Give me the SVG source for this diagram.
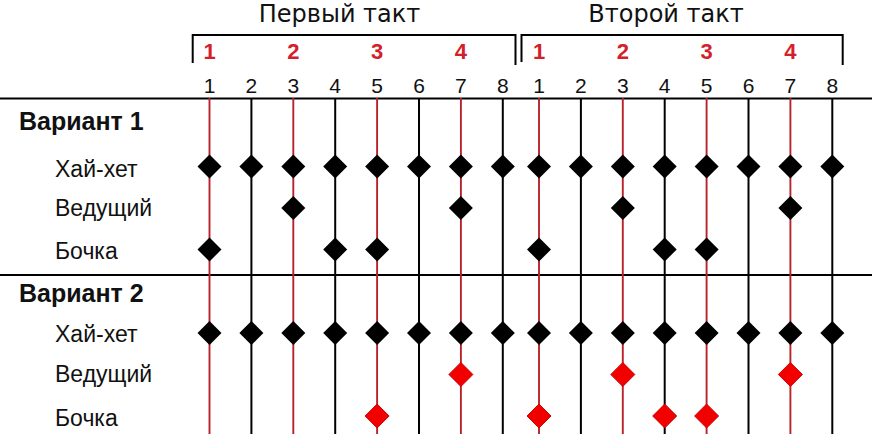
<svg xmlns="http://www.w3.org/2000/svg" xmlns:xlink="http://www.w3.org/1999/xlink" width="872" height="434" viewBox="0 0 872 434">
<style>
.title{font-family:"DejaVu Sans",sans-serif;font-size:24px;fill:#111;text-anchor:middle}
.beat{font-family:"Liberation Sans",Arial,sans-serif;font-size:22px;font-weight:bold;fill:#d3202a;text-anchor:middle}
.num{font-family:"Liberation Sans",Arial,sans-serif;font-size:21px;fill:#111;text-anchor:middle}
.var{font-family:"Liberation Sans",Arial,sans-serif;font-size:25px;font-weight:bold;fill:#111}
.lbl{font-family:"Liberation Sans",Arial,sans-serif;font-size:23px;fill:#111}
.bk{stroke:#000;stroke-width:2;fill:none}
.vl{stroke:#000;stroke-width:2}
.vr{stroke:#b8232a;stroke-width:1.9}
.db{fill:#000}
.dr{fill:#f20000;stroke:#d00000;stroke-width:1}
</style>
<defs>
<path id="d" d="M0,-12 L12,0 L0,12 L-12,0Z"/>
</defs>
<rect width="872" height="434" fill="#fff"/>
<g id="header">
<text class="title" x="339.5" y="22">Первый такт</text>
<text class="title" x="666" y="22">Второй такт</text>
<path class="bk" d="M192.7,63 V35 H515.5 V65"/>
<path class="bk" d="M521.5,62 V35 H842.7 V65"/>
<text class="beat" x="209.5" y="59">1</text>
<text class="beat" x="293.3" y="59">2</text>
<text class="beat" x="377.1" y="59">3</text>
<text class="beat" x="460.9" y="59">4</text>
<text class="beat" x="539" y="59">1</text>
<text class="beat" x="622.8" y="59">2</text>
<text class="beat" x="706.6" y="59">3</text>
<text class="beat" x="790.4" y="59">4</text>
<text class="num" x="209.5" y="92.5">1</text>
<text class="num" x="251.4" y="92.5">2</text>
<text class="num" x="293.3" y="92.5">3</text>
<text class="num" x="335.2" y="92.5">4</text>
<text class="num" x="377.1" y="92.5">5</text>
<text class="num" x="419" y="92.5">6</text>
<text class="num" x="460.9" y="92.5">7</text>
<text class="num" x="502.8" y="92.5">8</text>
<text class="num" x="539" y="92.5">1</text>
<text class="num" x="580.9" y="92.5">2</text>
<text class="num" x="622.8" y="92.5">3</text>
<text class="num" x="664.7" y="92.5">4</text>
<text class="num" x="706.6" y="92.5">5</text>
<text class="num" x="748.5" y="92.5">6</text>
<text class="num" x="790.4" y="92.5">7</text>
<text class="num" x="832.3" y="92.5">8</text>
</g>
<g id="connectors">
<line class="vl" x1="0" y1="98.5" x2="872" y2="98.5"/>
<line class="vl" x1="0" y1="275" x2="872" y2="275"/>
<line class="vr" x1="209.5" y1="98" x2="209.5" y2="434"/>
<line class="vl" x1="251.4" y1="98" x2="251.4" y2="434"/>
<line class="vr" x1="293.3" y1="98" x2="293.3" y2="434"/>
<line class="vl" x1="335.2" y1="98" x2="335.2" y2="434"/>
<line class="vr" x1="377.1" y1="98" x2="377.1" y2="434"/>
<line class="vl" x1="419" y1="98" x2="419" y2="434"/>
<line class="vr" x1="460.9" y1="98" x2="460.9" y2="434"/>
<line class="vl" x1="502.8" y1="98" x2="502.8" y2="434"/>
<line class="vr" x1="539" y1="98" x2="539" y2="434"/>
<line class="vl" x1="580.9" y1="98" x2="580.9" y2="434"/>
<line class="vr" x1="622.8" y1="98" x2="622.8" y2="434"/>
<line class="vl" x1="664.7" y1="98" x2="664.7" y2="434"/>
<line class="vr" x1="706.6" y1="98" x2="706.6" y2="434"/>
<line class="vl" x1="748.5" y1="98" x2="748.5" y2="434"/>
<line class="vr" x1="790.4" y1="98" x2="790.4" y2="434"/>
<line class="vl" x1="832.3" y1="98" x2="832.3" y2="434"/>
</g>
<g id="variant1">
<text class="var" x="19" y="130">Вариант 1</text>
<text class="lbl" x="55" y="177">Хай-хет</text>
<text class="lbl" x="55" y="216">Ведущий</text>
<text class="lbl" x="55" y="259">Бочка</text>
<g id="v1-hihat" class="db">
<use xlink:href="#d" x="209.5" y="166.5"/><use xlink:href="#d" x="251.4" y="166.5"/><use xlink:href="#d" x="293.3" y="166.5"/><use xlink:href="#d" x="335.2" y="166.5"/><use xlink:href="#d" x="377.1" y="166.5"/><use xlink:href="#d" x="419" y="166.5"/><use xlink:href="#d" x="460.9" y="166.5"/><use xlink:href="#d" x="502.8" y="166.5"/>
<use xlink:href="#d" x="539" y="166.5"/><use xlink:href="#d" x="580.9" y="166.5"/><use xlink:href="#d" x="622.8" y="166.5"/><use xlink:href="#d" x="664.7" y="166.5"/><use xlink:href="#d" x="706.6" y="166.5"/><use xlink:href="#d" x="748.5" y="166.5"/><use xlink:href="#d" x="790.4" y="166.5"/><use xlink:href="#d" x="832.3" y="166.5"/>
</g>
<g id="v1-snare" class="db">
<use xlink:href="#d" x="293.3" y="208"/><use xlink:href="#d" x="460.9" y="208"/><use xlink:href="#d" x="622.8" y="208"/><use xlink:href="#d" x="790.4" y="208"/>
</g>
<g id="v1-kick" class="db">
<use xlink:href="#d" x="209.5" y="249.5"/><use xlink:href="#d" x="335.2" y="249.5"/><use xlink:href="#d" x="377.1" y="249.5"/><use xlink:href="#d" x="539" y="249.5"/><use xlink:href="#d" x="664.7" y="249.5"/><use xlink:href="#d" x="706.6" y="249.5"/>
</g>
</g>
<g id="variant2">
<text class="var" x="19" y="302">Вариант 2</text>
<text class="lbl" x="55" y="342">Хай-хет</text>
<text class="lbl" x="55" y="382">Ведущий</text>
<text class="lbl" x="55" y="426">Бочка</text>
<g id="v2-hihat" class="db">
<use xlink:href="#d" x="209.5" y="333"/><use xlink:href="#d" x="251.4" y="333"/><use xlink:href="#d" x="293.3" y="333"/><use xlink:href="#d" x="335.2" y="333"/><use xlink:href="#d" x="377.1" y="333"/><use xlink:href="#d" x="419" y="333"/><use xlink:href="#d" x="460.9" y="333"/><use xlink:href="#d" x="502.8" y="333"/>
<use xlink:href="#d" x="539" y="333"/><use xlink:href="#d" x="580.9" y="333"/><use xlink:href="#d" x="622.8" y="333"/><use xlink:href="#d" x="664.7" y="333"/><use xlink:href="#d" x="706.6" y="333"/><use xlink:href="#d" x="748.5" y="333"/><use xlink:href="#d" x="790.4" y="333"/><use xlink:href="#d" x="832.3" y="333"/>
</g>
<g id="v2-snare" class="dr">
<use xlink:href="#d" x="460.9" y="374.5"/><use xlink:href="#d" x="622.8" y="374.5"/><use xlink:href="#d" x="790.4" y="374.5"/>
</g>
<g id="v2-kick" class="dr">
<use xlink:href="#d" x="377.1" y="416"/><use xlink:href="#d" x="539" y="416"/><use xlink:href="#d" x="664.7" y="416"/><use xlink:href="#d" x="706.6" y="416"/>
</g>
</g>
</svg>
